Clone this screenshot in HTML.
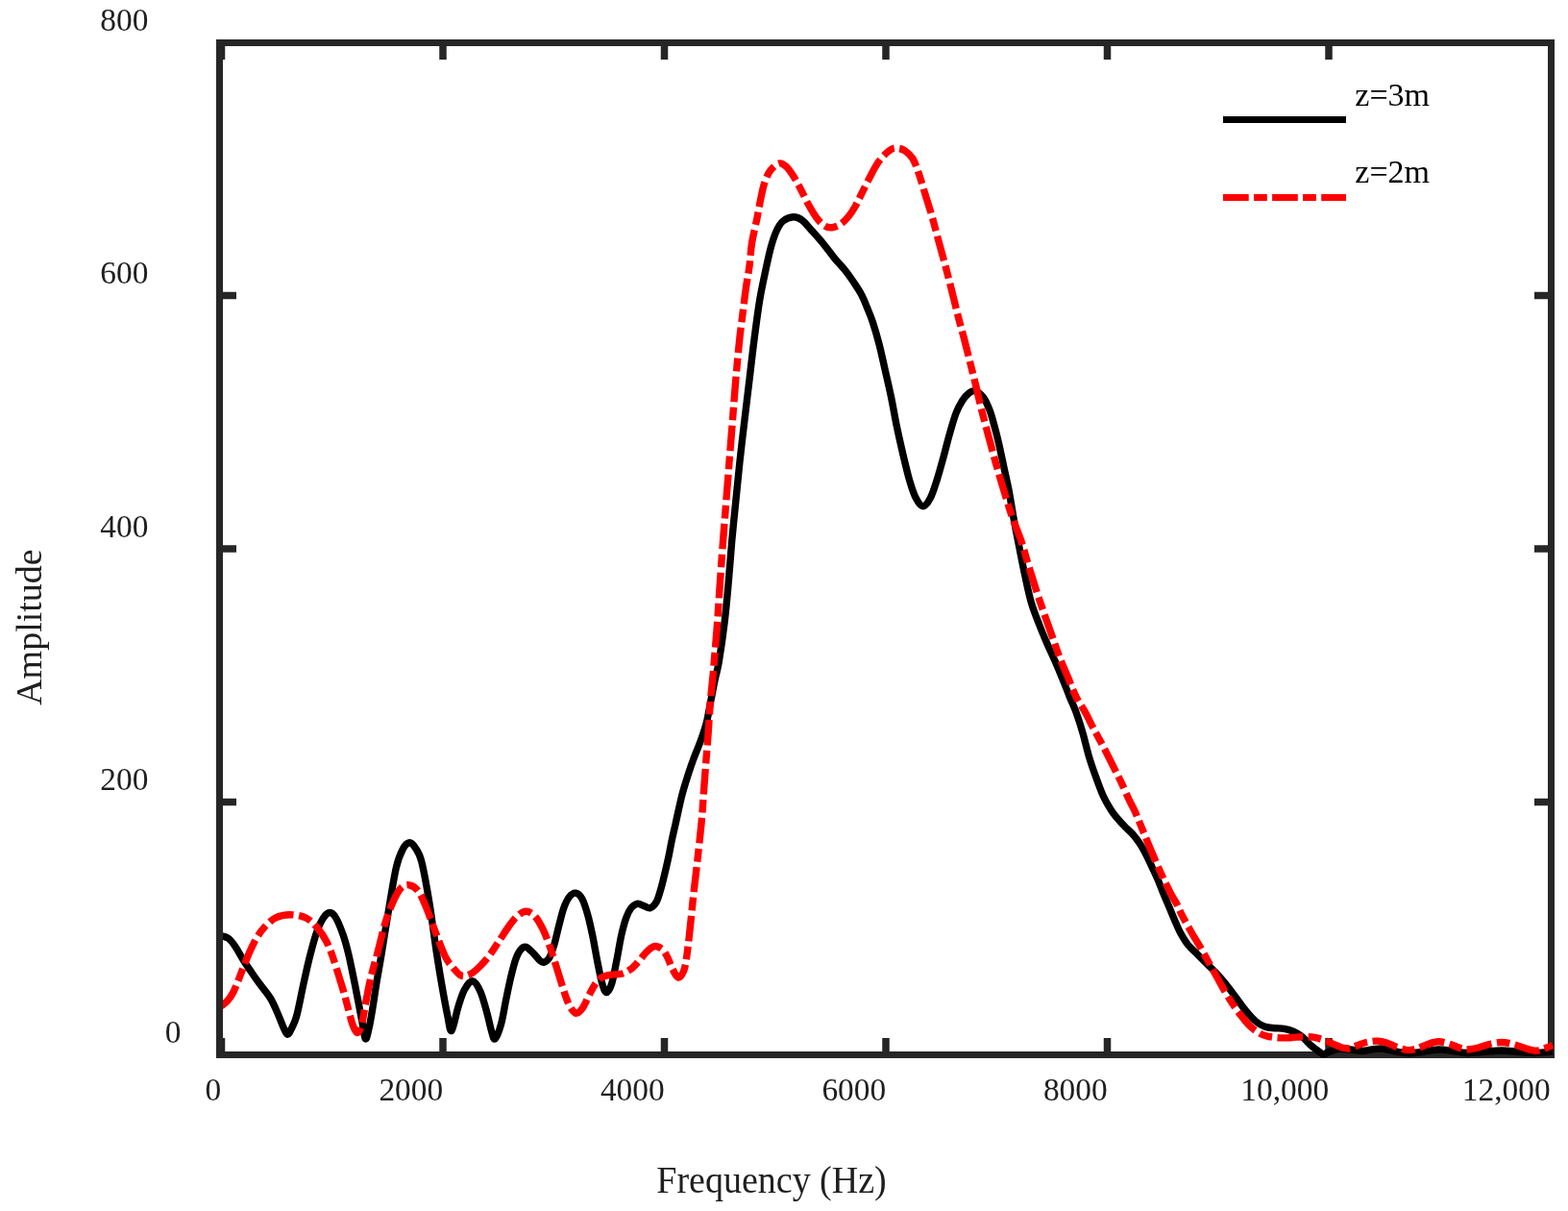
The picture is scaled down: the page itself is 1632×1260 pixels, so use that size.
<!DOCTYPE html>
<html lang="en">
<head>
<meta charset="utf-8">
<title>Amplitude vs Frequency</title>
<style>
html,body{margin:0;padding:0;background:#fff;}
body{width:1632px;height:1260px;overflow:hidden;}
svg{display:block;}
</style>
</head>
<body>
<svg width="1632" height="1260" viewBox="0 0 1632 1260">
<rect x="0" y="0" width="1632" height="1260" fill="#fff"/>
<rect x="228.5" y="44.5" width="1386" height="1053" fill="none" stroke="#262626" stroke-width="7"/>
<g fill="#262626"><rect x="226.75" y="1080" width="7.5" height="15"/><rect x="226.75" y="47" width="7.5" height="15"/><rect x="457.25" y="1080" width="7.5" height="15"/><rect x="457.25" y="47" width="7.5" height="15"/><rect x="687.75" y="1080" width="7.5" height="15"/><rect x="687.75" y="47" width="7.5" height="15"/><rect x="918.25" y="1080" width="7.5" height="15"/><rect x="918.25" y="47" width="7.5" height="15"/><rect x="1148.75" y="1080" width="7.5" height="15"/><rect x="1148.75" y="47" width="7.5" height="15"/><rect x="1379.25" y="1080" width="7.5" height="15"/><rect x="1379.25" y="47" width="7.5" height="15"/><rect x="231" y="830.75" width="15" height="7.5"/><rect x="1597" y="830.75" width="15" height="7.5"/><rect x="231" y="567.25" width="15" height="7.5"/><rect x="1597" y="567.25" width="15" height="7.5"/><rect x="231" y="303.75" width="15" height="7.5"/><rect x="1597" y="303.75" width="15" height="7.5"/></g>
<defs><clipPath id="plotclip"><rect x="232" y="41" width="1386" height="1060"/></clipPath></defs>
<g clip-path="url(#plotclip)" fill="none" stroke-linejoin="round">
<path d="M226.00 974.00C226.92 974.00 229.50 973.58 231.50 974.00C233.50 974.42 235.75 974.67 238.00 976.50C240.25 978.33 242.45 981.25 245.00 985.00C247.55 988.75 250.47 994.50 253.30 999.00C256.13 1003.50 259.22 1007.95 262.00 1012.00C264.78 1016.05 266.72 1018.80 270.00 1023.30C273.28 1027.80 278.37 1033.43 281.70 1039.00C285.03 1044.57 287.78 1051.70 290.00 1056.70C292.22 1061.70 293.47 1065.73 295.00 1069.00C296.53 1072.27 297.78 1076.13 299.20 1076.30C300.62 1076.47 301.90 1073.27 303.50 1070.00C305.10 1066.73 306.72 1064.48 308.80 1056.70C310.88 1048.92 313.72 1033.58 316.00 1023.30C318.28 1013.02 320.23 1003.88 322.50 995.00C324.77 986.12 327.25 976.67 329.60 970.00C331.95 963.33 334.32 958.42 336.60 955.00C338.88 951.58 341.13 949.50 343.30 949.50C345.47 949.50 347.27 951.03 349.60 955.00C351.93 958.97 355.10 966.97 357.30 973.30C359.50 979.63 360.82 984.67 362.80 993.00C364.78 1001.33 366.88 1011.80 369.20 1023.30C371.52 1034.80 374.85 1052.42 376.70 1062.00C378.55 1071.58 379.08 1079.47 380.30 1080.80C381.52 1082.13 382.72 1075.47 384.00 1070.00C385.28 1064.53 386.67 1056.00 388.00 1048.00C389.33 1040.00 390.55 1030.83 392.00 1022.00C393.45 1013.17 394.70 1007.00 396.70 995.00C398.70 983.00 401.40 965.33 404.00 950.00C406.60 934.67 409.72 914.17 412.30 903.00C414.88 891.83 417.17 887.38 419.50 883.00C421.83 878.62 424.18 876.87 426.30 876.70C428.42 876.53 430.12 878.67 432.20 882.00C434.28 885.33 436.33 887.03 438.80 896.70C441.27 906.37 444.43 924.45 447.00 940.00C449.57 955.55 452.10 976.12 454.20 990.00C456.30 1003.88 457.67 1012.18 459.60 1023.30C461.53 1034.42 464.07 1048.50 465.80 1056.70C467.53 1064.90 468.18 1073.90 470.00 1072.50C471.82 1071.10 474.48 1055.38 476.70 1048.30C478.92 1041.22 480.80 1034.58 483.30 1030.00C485.80 1025.42 488.92 1020.52 491.70 1020.80C494.48 1021.08 497.50 1026.28 500.00 1031.70C502.50 1037.12 504.75 1046.37 506.70 1053.30C508.65 1060.23 510.27 1068.72 511.70 1073.30C513.13 1077.88 513.63 1082.18 515.30 1080.80C516.97 1079.42 519.80 1071.80 521.70 1065.00C523.60 1058.20 525.03 1048.05 526.70 1040.00C528.37 1031.95 530.03 1023.65 531.70 1016.70C533.37 1009.75 535.03 1003.03 536.70 998.30C538.37 993.57 539.90 990.47 541.70 988.30C543.50 986.13 545.28 984.73 547.50 985.30C549.72 985.87 552.63 989.38 555.00 991.70C557.37 994.02 559.90 997.60 561.70 999.20C563.50 1000.80 564.13 1001.72 565.80 1001.30C567.47 1000.88 569.88 999.70 571.70 996.70C573.52 993.70 575.03 988.87 576.70 983.30C578.37 977.73 580.03 969.68 581.70 963.30C583.37 956.92 584.90 950.00 586.70 945.00C588.50 940.00 590.42 935.93 592.50 933.30C594.58 930.67 596.98 928.92 599.20 929.20C601.42 929.48 603.72 931.25 605.80 935.00C607.88 938.75 609.88 945.32 611.70 951.70C613.52 958.08 615.03 965.25 616.70 973.30C618.37 981.35 620.03 991.67 621.70 1000.00C623.37 1008.33 625.10 1017.88 626.70 1023.30C628.30 1028.72 629.63 1032.50 631.30 1032.50C632.97 1032.50 634.97 1028.72 636.70 1023.30C638.43 1017.88 640.03 1008.33 641.70 1000.00C643.37 991.67 645.03 980.80 646.70 973.30C648.37 965.80 650.03 959.72 651.70 955.00C653.37 950.28 654.77 947.45 656.70 945.00C658.63 942.55 661.08 940.72 663.30 940.30C665.52 939.88 667.77 941.77 670.00 942.50C672.23 943.23 674.48 945.40 676.70 944.70C678.92 944.00 681.37 941.87 683.30 938.30C685.23 934.73 686.65 929.13 688.30 923.30C689.95 917.47 691.88 908.85 693.20 903.30C694.52 897.75 695.18 894.88 696.20 890.00C697.22 885.12 698.13 879.55 699.30 874.00C700.47 868.45 701.42 864.58 703.20 856.70C704.98 848.82 707.87 835.03 710.00 826.70C712.13 818.37 714.05 812.82 716.00 806.70C717.95 800.58 719.65 795.57 721.70 790.00C723.75 784.43 726.08 779.42 728.30 773.30C730.52 767.18 733.05 760.80 735.00 753.30C736.95 745.80 738.47 736.07 740.00 728.30C741.53 720.53 742.82 713.37 744.20 706.70C745.58 700.03 746.63 698.30 748.30 688.30C749.97 678.30 752.53 660.58 754.20 646.70C755.87 632.82 757.05 618.90 758.30 605.00C759.55 591.10 760.45 577.18 761.70 563.30C762.95 549.42 764.42 535.58 765.80 521.70C767.18 507.82 768.47 494.17 770.00 480.00C771.53 465.83 773.33 450.87 775.00 436.70C776.67 422.53 778.33 408.90 780.00 395.00C781.67 381.10 783.20 367.18 785.00 353.30C786.80 339.42 788.72 324.20 790.80 311.70C792.88 299.20 795.55 287.47 797.50 278.30C799.45 269.13 800.70 263.08 802.50 256.70C804.30 250.32 806.22 244.45 808.30 240.00C810.38 235.55 812.08 232.37 815.00 230.00C817.92 227.63 822.47 225.93 825.80 225.80C829.13 225.67 831.80 226.83 835.00 229.20C838.20 231.57 841.38 235.98 845.00 240.00C848.62 244.02 852.82 248.58 856.70 253.30C860.58 258.02 864.42 263.57 868.30 268.30C872.18 273.03 876.67 277.53 880.00 281.70C883.33 285.87 885.52 289.13 888.30 293.30C891.08 297.47 894.33 302.25 896.70 306.70C899.07 311.15 900.57 315.28 902.50 320.00C904.43 324.72 906.22 328.67 908.30 335.00C910.38 341.33 912.88 349.83 915.00 358.00C917.12 366.17 918.92 374.83 921.00 384.00C923.08 393.17 925.45 403.12 927.50 413.00C929.55 422.88 931.22 433.25 933.30 443.30C935.38 453.35 937.77 463.85 940.00 473.30C942.23 482.75 944.48 492.50 946.70 500.00C948.92 507.50 950.95 513.85 953.30 518.30C955.65 522.75 958.30 526.70 960.80 526.70C963.30 526.70 965.93 522.75 968.30 518.30C970.67 513.85 972.77 506.93 975.00 500.00C977.23 493.07 979.48 484.75 981.70 476.70C983.92 468.65 986.08 459.48 988.30 451.70C990.52 443.92 992.77 435.83 995.00 430.00C997.23 424.17 999.48 420.17 1001.70 416.70C1003.92 413.23 1006.08 410.87 1008.30 409.20C1010.52 407.53 1012.50 406.02 1015.00 406.70C1017.50 407.38 1020.80 409.97 1023.30 413.30C1025.80 416.63 1028.05 421.70 1030.00 426.70C1031.95 431.70 1033.33 437.20 1035.00 443.30C1036.67 449.40 1038.33 456.07 1040.00 463.30C1041.67 470.53 1043.33 478.92 1045.00 486.70C1046.67 494.48 1048.33 501.28 1050.00 510.00C1051.67 518.72 1053.33 529.83 1055.00 539.00C1056.67 548.17 1058.05 555.12 1060.00 565.00C1061.95 574.88 1064.48 588.02 1066.70 598.30C1068.92 608.58 1070.80 618.08 1073.30 626.70C1075.80 635.32 1078.92 642.78 1081.70 650.00C1084.48 657.22 1087.23 663.62 1090.00 670.00C1092.77 676.38 1095.52 681.92 1098.30 688.30C1101.08 694.68 1104.20 702.18 1106.70 708.30C1109.20 714.42 1111.08 719.55 1113.30 725.00C1115.52 730.45 1117.77 734.88 1120.00 741.00C1122.23 747.12 1124.48 754.08 1126.70 761.70C1128.92 769.32 1131.08 779.20 1133.30 786.70C1135.52 794.20 1137.50 799.77 1140.00 806.70C1142.50 813.63 1145.52 822.20 1148.30 828.30C1151.08 834.40 1154.33 839.55 1156.70 843.30C1159.07 847.05 1160.15 848.02 1162.50 850.80C1164.85 853.58 1168.02 857.08 1170.80 860.00C1173.58 862.92 1176.55 865.25 1179.20 868.30C1181.85 871.35 1184.35 874.68 1186.70 878.30C1189.05 881.92 1191.22 885.97 1193.30 890.00C1195.38 894.03 1197.25 898.33 1199.20 902.50C1201.15 906.67 1203.20 910.83 1205.00 915.00C1206.80 919.17 1208.05 922.78 1210.00 927.50C1211.95 932.22 1214.70 938.55 1216.70 943.30C1218.70 948.05 1220.07 951.55 1222.00 956.00C1223.93 960.45 1225.85 965.45 1228.30 970.00C1230.75 974.55 1233.63 979.42 1236.70 983.30C1239.77 987.18 1243.37 989.97 1246.70 993.30C1250.03 996.63 1253.37 999.97 1256.70 1003.30C1260.03 1006.63 1263.37 1009.68 1266.70 1013.30C1270.03 1016.92 1273.37 1020.83 1276.70 1025.00C1280.03 1029.17 1283.37 1033.85 1286.70 1038.30C1290.03 1042.75 1293.37 1047.67 1296.70 1051.70C1300.03 1055.73 1303.37 1059.73 1306.70 1062.50C1310.03 1065.27 1313.37 1067.10 1316.70 1068.30C1320.03 1069.50 1323.37 1069.37 1326.70 1069.70C1330.03 1070.03 1333.37 1069.70 1336.70 1070.30C1340.03 1070.90 1343.65 1071.97 1346.70 1073.30C1349.75 1074.63 1352.23 1076.07 1355.00 1078.30C1357.77 1080.53 1360.52 1084.20 1363.30 1086.70C1366.08 1089.20 1369.33 1091.63 1371.70 1093.30C1374.07 1094.97 1375.28 1096.62 1377.50 1096.70C1379.72 1096.78 1382.37 1094.68 1385.00 1093.80C1387.63 1092.92 1389.97 1091.72 1393.30 1091.40C1396.63 1091.08 1400.83 1091.55 1405.00 1091.90C1409.17 1092.25 1414.13 1093.55 1418.30 1093.50C1422.47 1093.45 1426.38 1091.98 1430.00 1091.60C1433.62 1091.22 1436.12 1090.77 1440.00 1091.20C1443.88 1091.63 1448.85 1093.43 1453.30 1094.20C1457.75 1094.97 1462.25 1095.75 1466.70 1095.80C1471.15 1095.85 1474.95 1095.13 1480.00 1094.50C1485.05 1093.87 1491.67 1092.17 1497.00 1092.00C1502.33 1091.83 1506.83 1092.92 1512.00 1093.50C1517.17 1094.08 1522.50 1095.37 1528.00 1095.50C1533.50 1095.63 1539.17 1094.72 1545.00 1094.30C1550.83 1093.88 1557.17 1093.00 1563.00 1093.00C1568.83 1093.00 1574.17 1093.88 1580.00 1094.30C1585.83 1094.72 1592.00 1095.55 1598.00 1095.50C1604.00 1095.45 1613.00 1094.25 1616.00 1094.00" stroke="#000" stroke-width="7.4"/>
<path d="M229.50 1047.50C230.75 1046.42 234.75 1043.58 237.00 1041.00C239.25 1038.42 240.83 1036.33 243.00 1032.00C245.17 1027.67 247.45 1021.33 250.00 1015.00C252.55 1008.67 255.52 1000.38 258.30 994.00C261.08 987.62 263.92 981.53 266.70 976.70C269.48 971.87 271.67 968.62 275.00 965.00C278.33 961.38 282.25 957.22 286.70 955.00C291.15 952.78 296.43 951.70 301.70 951.70C306.97 951.70 313.58 952.78 318.30 955.00C323.02 957.22 326.38 960.83 330.00 965.00C333.62 969.17 337.22 974.72 340.00 980.00C342.78 985.28 344.48 990.45 346.70 996.70C348.92 1002.95 351.37 1011.28 353.30 1017.50C355.23 1023.72 356.63 1028.08 358.30 1034.00C359.97 1039.92 361.85 1047.67 363.30 1053.00C364.75 1058.33 365.63 1062.42 367.00 1066.00C368.37 1069.58 370.00 1074.17 371.50 1074.50C373.00 1074.83 374.58 1072.58 376.00 1068.00C377.42 1063.42 378.63 1054.17 380.00 1047.00C381.37 1039.83 382.82 1031.50 384.20 1025.00C385.58 1018.50 386.78 1013.83 388.30 1008.00C389.82 1002.17 391.18 998.00 393.30 990.00C395.42 982.00 398.25 968.88 401.00 960.00C403.75 951.12 407.05 942.73 409.80 936.70C412.55 930.67 414.83 926.45 417.50 923.80C420.17 921.15 422.88 920.32 425.80 920.80C428.72 921.28 432.08 922.95 435.00 926.70C437.92 930.45 440.25 936.08 443.30 943.30C446.35 950.52 449.97 961.38 453.30 970.00C456.63 978.62 460.52 989.17 463.30 995.00C466.08 1000.83 467.22 1001.67 470.00 1005.00C472.78 1008.33 476.67 1013.62 480.00 1015.00C483.33 1016.38 486.67 1014.97 490.00 1013.30C493.33 1011.63 496.67 1008.33 500.00 1005.00C503.33 1001.67 506.67 997.75 510.00 993.30C513.33 988.85 516.67 983.30 520.00 978.30C523.33 973.30 526.95 967.47 530.00 963.30C533.05 959.13 535.38 955.80 538.30 953.30C541.22 950.80 544.43 948.30 547.50 948.30C550.57 948.30 553.78 950.23 556.70 953.30C559.62 956.37 562.50 961.70 565.00 966.70C567.50 971.70 569.48 977.20 571.70 983.30C573.92 989.40 576.08 996.35 578.30 1003.30C580.52 1010.25 583.05 1018.88 585.00 1025.00C586.95 1031.12 588.33 1035.83 590.00 1040.00C591.67 1044.17 593.33 1047.63 595.00 1050.00C596.67 1052.37 598.05 1054.48 600.00 1054.20C601.95 1053.92 604.48 1051.50 606.70 1048.30C608.92 1045.10 611.08 1039.17 613.30 1035.00C615.52 1030.83 617.77 1026.35 620.00 1023.30C622.23 1020.25 623.92 1018.22 626.70 1016.70C629.48 1015.18 633.37 1014.77 636.70 1014.20C640.03 1013.63 643.37 1014.28 646.70 1013.30C650.03 1012.32 653.65 1010.52 656.70 1008.30C659.75 1006.08 662.50 1002.77 665.00 1000.00C667.50 997.23 669.48 994.07 671.70 991.70C673.92 989.33 676.37 986.97 678.30 985.80C680.23 984.63 681.35 984.28 683.30 984.70C685.25 985.12 688.05 986.30 690.00 988.30C691.95 990.30 693.33 993.37 695.00 996.70C696.67 1000.03 698.20 1004.92 700.00 1008.30C701.80 1011.68 703.85 1016.72 705.80 1017.00C707.75 1017.28 710.17 1013.95 711.70 1010.00C713.23 1006.05 713.90 1000.80 715.00 993.30C716.10 985.80 717.18 975.27 718.30 965.00C719.42 954.73 720.58 941.98 721.70 931.70C722.82 921.42 723.62 915.80 725.00 903.30C726.38 890.80 728.75 870.03 730.00 856.70C731.25 843.37 731.67 834.42 732.50 823.30C733.33 812.18 734.25 799.72 735.00 790.00C735.75 780.28 736.30 774.72 737.00 765.00C737.70 755.28 738.42 741.42 739.20 731.70C739.98 721.98 741.02 713.93 741.70 706.70C742.38 699.47 742.47 698.30 743.30 688.30C744.13 678.30 745.67 660.58 746.70 646.70C747.73 632.82 748.53 618.90 749.50 605.00C750.47 591.10 751.45 577.18 752.50 563.30C753.55 549.42 754.68 535.87 755.80 521.70C756.92 507.53 758.08 492.47 759.20 478.30C760.32 464.13 761.40 450.58 762.50 436.70C763.60 422.82 764.60 408.90 765.80 395.00C767.00 381.10 768.45 365.13 769.70 353.30C770.95 341.47 772.17 333.05 773.30 324.00C774.43 314.95 775.38 306.83 776.50 299.00C777.62 291.17 779.00 284.62 780.00 277.00C781.00 269.38 781.22 261.42 782.50 253.30C783.78 245.18 786.15 236.07 787.70 228.30C789.25 220.53 790.45 213.08 791.80 206.70C793.15 200.32 794.15 194.87 795.80 190.00C797.45 185.13 799.20 180.83 801.70 177.50C804.20 174.17 808.03 170.70 810.80 170.00C813.57 169.30 815.80 171.08 818.30 173.30C820.80 175.52 823.30 179.40 825.80 183.30C828.30 187.20 830.65 191.70 833.30 196.70C835.95 201.70 838.92 208.30 841.70 213.30C844.48 218.30 847.23 223.08 850.00 226.70C852.77 230.32 855.67 233.33 858.30 235.00C860.93 236.67 863.02 236.98 865.80 236.70C868.58 236.42 872.08 235.25 875.00 233.30C877.92 231.35 880.80 228.05 883.30 225.00C885.80 221.95 887.77 218.88 890.00 215.00C892.23 211.12 894.20 206.70 896.70 201.70C899.20 196.70 902.23 190.28 905.00 185.00C907.77 179.72 910.52 174.17 913.30 170.00C916.08 165.83 919.20 162.50 921.70 160.00C924.20 157.50 926.22 155.97 928.30 155.00C930.38 154.03 931.97 153.92 934.20 154.20C936.43 154.48 939.07 154.90 941.70 156.70C944.33 158.50 947.50 160.83 950.00 165.00C952.50 169.17 954.48 175.32 956.70 181.70C958.92 188.08 961.08 196.08 963.30 203.30C965.52 210.52 967.77 217.22 970.00 225.00C972.23 232.78 974.48 241.83 976.70 250.00C978.92 258.17 981.08 265.67 983.30 274.00C985.52 282.33 987.68 290.83 990.00 300.00C992.32 309.17 994.98 320.38 997.20 329.00C999.42 337.62 1001.17 343.48 1003.30 351.70C1005.43 359.92 1007.92 369.97 1010.00 378.30C1012.08 386.63 1013.85 393.63 1015.80 401.70C1017.75 409.77 1019.62 418.37 1021.70 426.70C1023.78 435.03 1026.08 443.37 1028.30 451.70C1030.52 460.03 1032.77 468.65 1035.00 476.70C1037.23 484.75 1039.48 492.50 1041.70 500.00C1043.92 507.50 1046.25 515.12 1048.30 521.70C1050.35 528.28 1051.63 532.83 1054.00 539.50C1056.37 546.17 1059.83 553.83 1062.50 561.70C1065.17 569.57 1067.37 578.10 1070.00 586.70C1072.63 595.30 1075.52 604.70 1078.30 613.30C1081.08 621.90 1083.92 630.23 1086.70 638.30C1089.48 646.37 1092.23 653.92 1095.00 661.70C1097.77 669.48 1100.52 677.78 1103.30 685.00C1106.08 692.22 1108.92 698.33 1111.70 705.00C1114.48 711.67 1117.03 719.00 1120.00 725.00C1122.97 731.00 1126.45 735.45 1129.50 741.00C1132.55 746.55 1135.17 752.35 1138.30 758.30C1141.43 764.25 1144.97 770.30 1148.30 776.70C1151.63 783.10 1155.23 790.60 1158.30 796.70C1161.37 802.80 1163.92 807.47 1166.70 813.30C1169.48 819.13 1172.65 826.70 1175.00 831.70C1177.35 836.70 1178.72 838.72 1180.80 843.30C1182.88 847.88 1184.85 852.80 1187.50 859.20C1190.15 865.60 1193.37 873.78 1196.70 881.70C1200.03 889.62 1203.90 898.78 1207.50 906.70C1211.10 914.62 1215.38 923.48 1218.30 929.20C1221.22 934.92 1223.05 937.25 1225.00 941.00C1226.95 944.75 1227.50 946.87 1230.00 951.70C1232.50 956.53 1236.67 964.17 1240.00 970.00C1243.33 975.83 1246.95 981.42 1250.00 986.70C1253.05 991.98 1255.52 996.70 1258.30 1001.70C1261.08 1006.70 1263.92 1011.70 1266.70 1016.70C1269.48 1021.70 1272.23 1026.98 1275.00 1031.70C1277.77 1036.42 1280.52 1040.83 1283.30 1045.00C1286.08 1049.17 1288.92 1053.08 1291.70 1056.70C1294.48 1060.32 1297.23 1063.93 1300.00 1066.70C1302.77 1069.47 1305.52 1071.50 1308.30 1073.30C1311.08 1075.10 1313.08 1076.43 1316.70 1077.50C1320.32 1078.57 1325.57 1079.33 1330.00 1079.70C1334.43 1080.07 1339.13 1079.87 1343.30 1079.70C1347.47 1079.53 1351.10 1078.78 1355.00 1078.70C1358.90 1078.62 1363.08 1078.70 1366.70 1079.20C1370.32 1079.70 1373.37 1080.60 1376.70 1081.70C1380.03 1082.80 1383.37 1084.42 1386.70 1085.80C1390.03 1087.18 1393.65 1089.17 1396.70 1090.00C1399.75 1090.83 1402.23 1091.22 1405.00 1090.80C1407.77 1090.38 1410.25 1088.60 1413.30 1087.50C1416.35 1086.40 1419.90 1084.93 1423.30 1084.20C1426.70 1083.47 1430.37 1082.97 1433.70 1083.10C1437.03 1083.23 1440.03 1083.98 1443.30 1085.00C1446.57 1086.02 1449.73 1087.93 1453.30 1089.20C1456.87 1090.47 1461.08 1092.30 1464.70 1092.60C1468.32 1092.90 1471.45 1092.02 1475.00 1091.00C1478.55 1089.98 1482.33 1087.70 1486.00 1086.50C1489.67 1085.30 1493.33 1083.88 1497.00 1083.80C1500.67 1083.72 1504.67 1085.05 1508.00 1086.00C1511.33 1086.95 1514.10 1088.52 1517.00 1089.50C1519.90 1090.48 1522.07 1091.73 1525.40 1091.90C1528.73 1092.07 1532.90 1091.40 1537.00 1090.50C1541.10 1089.60 1545.67 1087.50 1550.00 1086.50C1554.33 1085.50 1558.83 1084.50 1563.00 1084.50C1567.17 1084.50 1571.00 1085.50 1575.00 1086.50C1579.00 1087.50 1583.17 1089.38 1587.00 1090.50C1590.83 1091.62 1594.83 1093.03 1598.00 1093.20C1601.17 1093.37 1603.00 1092.45 1606.00 1091.50C1609.00 1090.55 1614.33 1088.17 1616.00 1087.50" stroke="#ff0000" stroke-width="7.4" stroke-dasharray="26.6 5.5 13.6 5.49" stroke-dashoffset="-1.2"/>
</g>
<rect x="1273" y="121" width="128" height="7" fill="#000"/>
<path d="M1273 205.5H1401" stroke="#ff0000" stroke-width="7" stroke-dasharray="26.7 5.3 13.8 5.3" fill="none"/>
<g font-family="'Liberation Serif', 'Times New Roman', serif" fill="#1f1f1f">
<g font-size="33.4">
<text transform="translate(104.3 31.9) scale(1 1.025)">800</text>
<text transform="translate(104.3 295.1) scale(1 1.025)">600</text>
<text transform="translate(104.3 558.5) scale(1 1.025)">400</text>
<text transform="translate(104.3 821.9) scale(1 1.025)">200</text>
<text transform="translate(171.8 1085) scale(1 1.025)">0</text>
<text transform="translate(230.3 1145.3) scale(1 1.025)" text-anchor="end">0</text>
<text transform="translate(461.2 1145.3) scale(1 1.025)" text-anchor="end">2000</text>
<text transform="translate(691.7 1145.3) scale(1 1.025)" text-anchor="end">4000</text>
<text transform="translate(922.2 1145.3) scale(1 1.025)" text-anchor="end">6000</text>
<text transform="translate(1152.7 1145.3) scale(1 1.025)" text-anchor="end">8000</text>
<text transform="translate(1383.2 1145.3) scale(1 1.025)" text-anchor="end">10,000</text>
<text transform="translate(1613.7 1145.3) scale(1 1.025)" text-anchor="end">12,000</text>
</g>
<text font-size="38" transform="translate(803 1241) scale(1 1.04)" text-anchor="middle">Frequency (Hz)</text>
<text font-size="38" transform="translate(43.2 652.6) rotate(-90) scale(1 0.98)" text-anchor="middle">Amplitude</text>
<g font-size="34" fill="#000">
<text x="1410.3" y="109.8">z=3m</text>
<text x="1410.3" y="189.8">z=2m</text>
</g>
</g>
</svg>
</body>
</html>
